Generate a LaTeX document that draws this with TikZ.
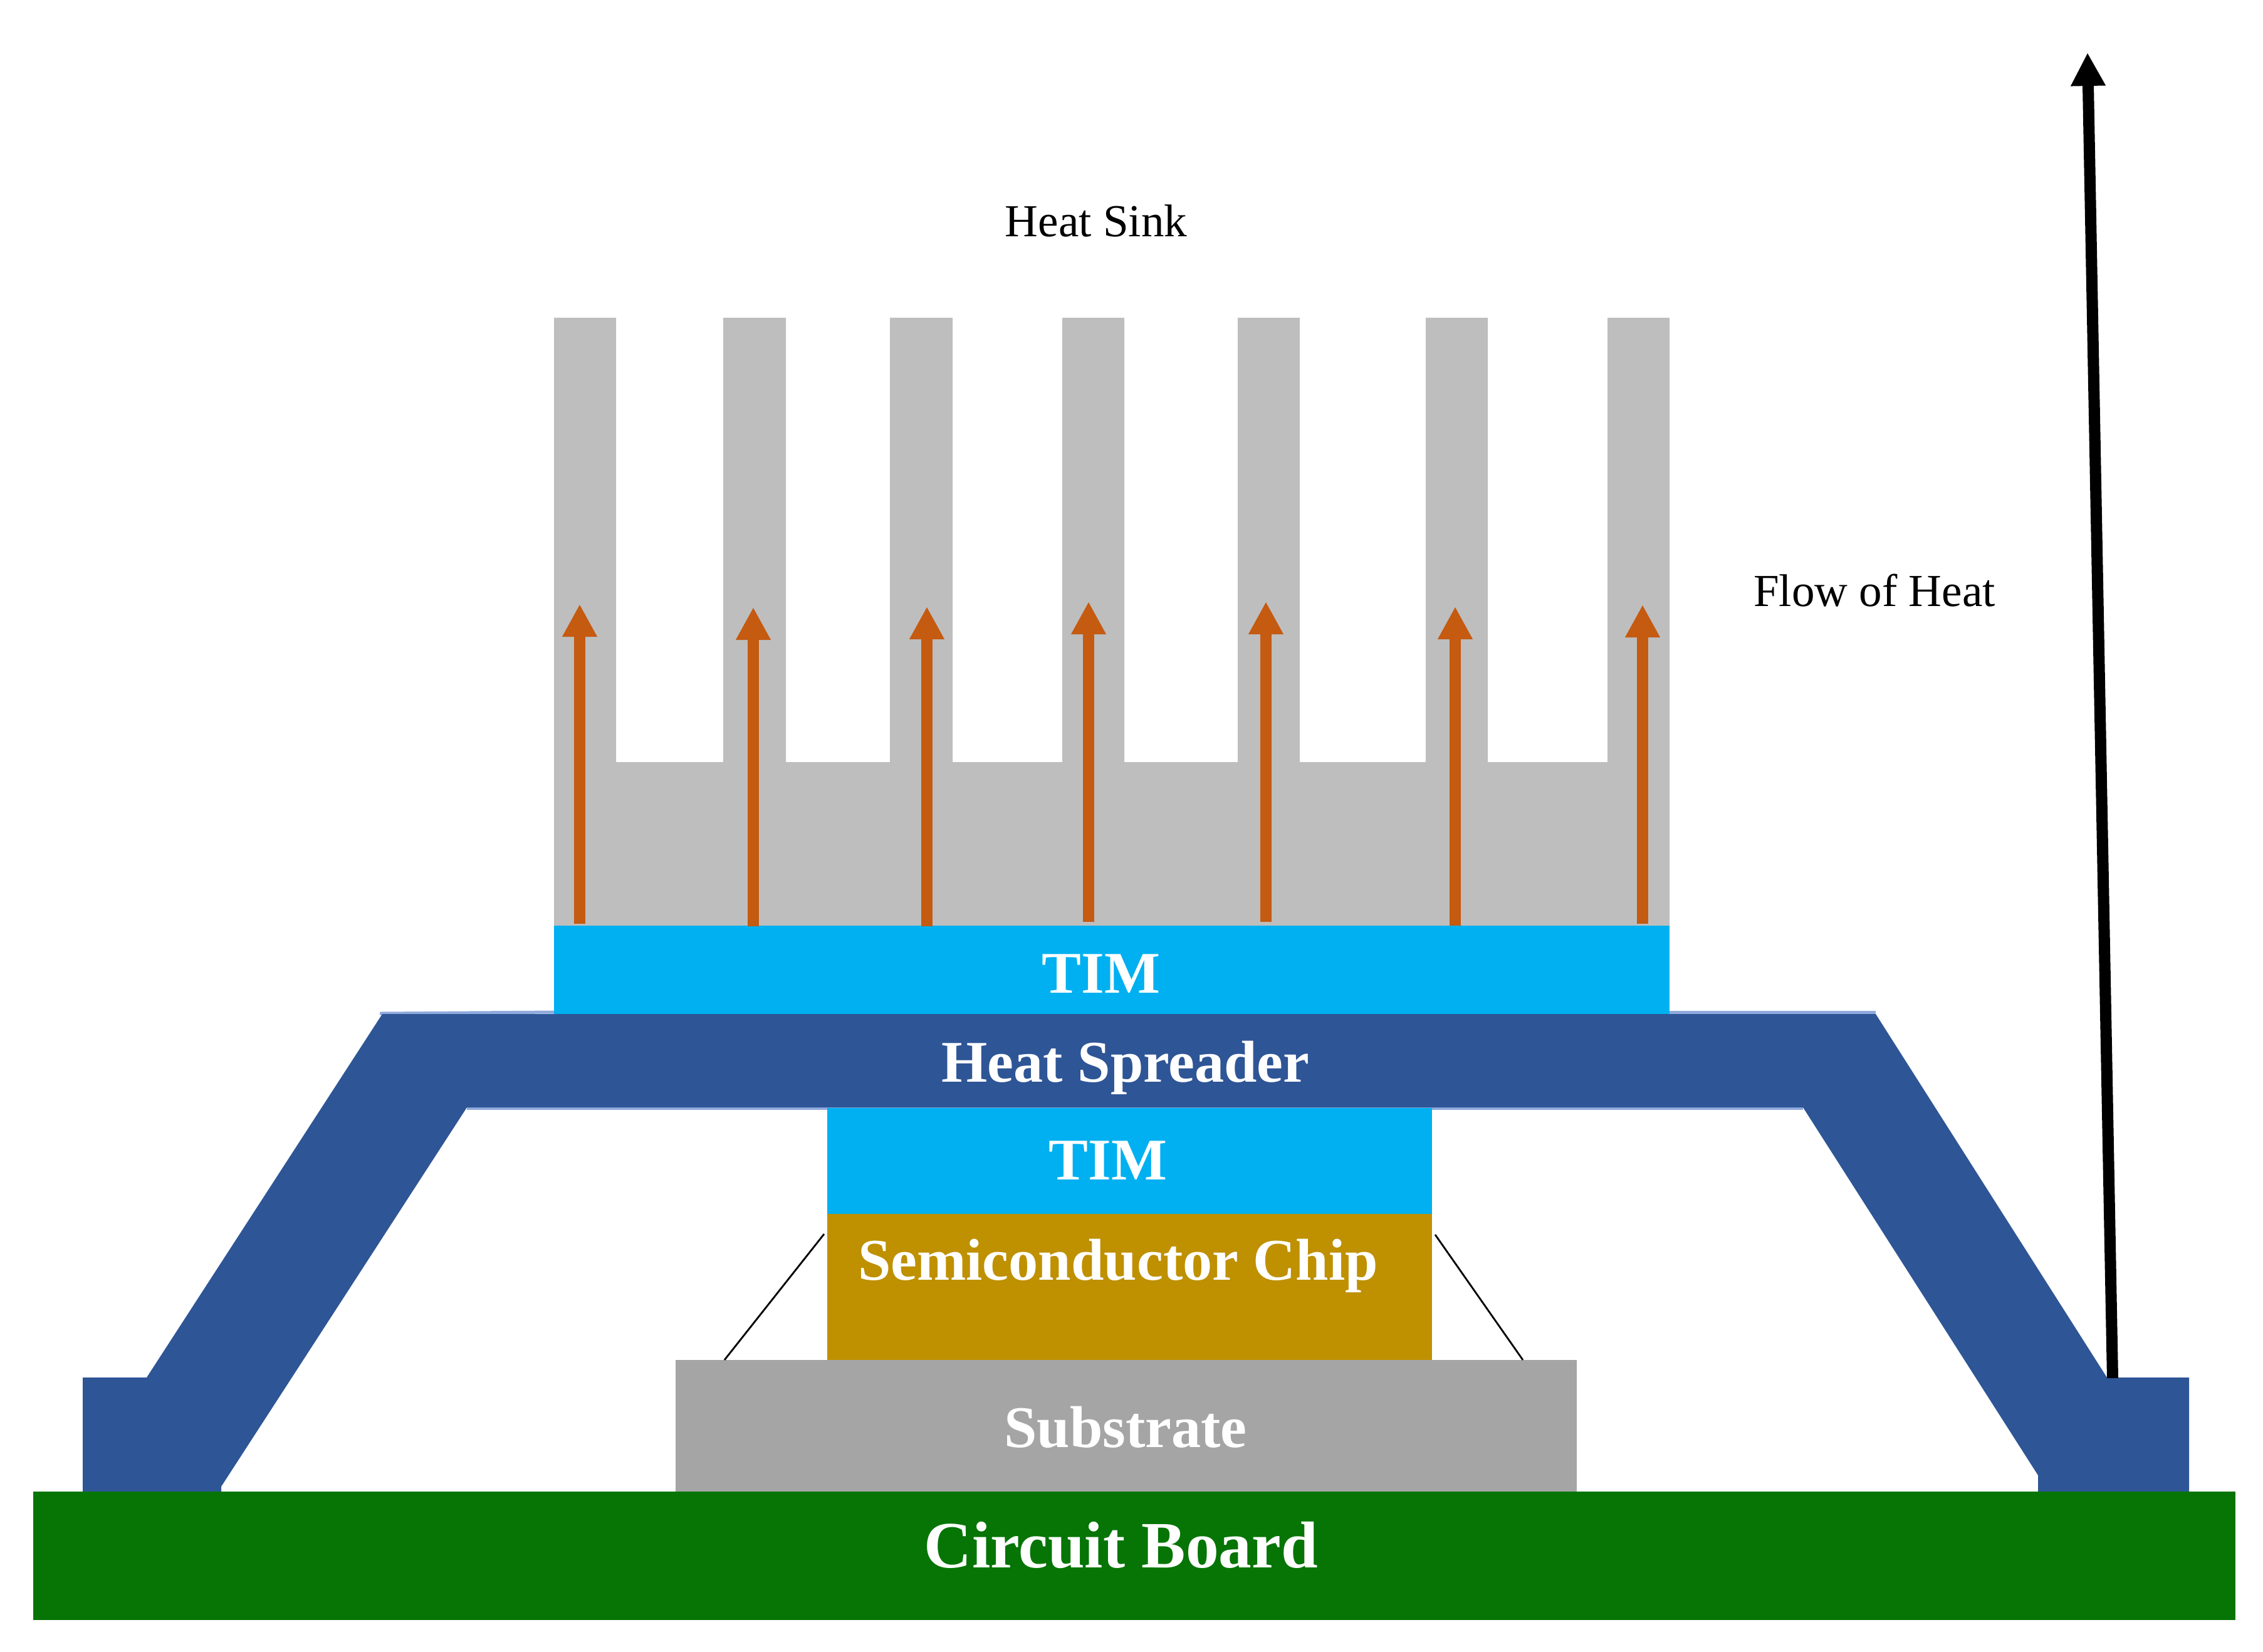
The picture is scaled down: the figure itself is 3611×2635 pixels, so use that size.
\documentclass[tikz,border=0pt]{standalone}
\usepackage{fontspec}
\setmainfont{Liberation Serif}
\usetikzlibrary{arrows.meta}
\definecolor{sinkgray}{HTML}{BEBEBE}
\definecolor{timblue}{HTML}{00B0F0}
\definecolor{spreadblue}{HTML}{2E5596}
\definecolor{edgeblue}{HTML}{8FAADC}
\definecolor{chipgold}{HTML}{BF9000}
\definecolor{subgray}{HTML}{A5A5A5}
\definecolor{boardgreen}{HTML}{067506}
\definecolor{heatorange}{HTML}{C55A11}
\tikzset{
  plain label/.style={inner sep=0pt,font=\fontsize{20.8}{25}\selectfont,text=black},
  bold label/.style={inner sep=0pt,font=\fontsize{26.8}{32}\selectfont\bfseries,text=white},
  board label/.style={inner sep=0pt,font=\fontsize{30}{36}\selectfont\bfseries,text=white},
  heat arrow/.style={draw=heatorange,line width=0.18cm,-{Triangle[length=0.52cm,width=0.52cm]}},
  flow arrow/.style={draw=black,line width=0.18cm,-{Triangle[length=0.53cm,width=0.52cm]}},
  wire/.style={draw=black,line width=0.8pt},
}
\begin{document}
\begin{tikzpicture}[x=0.01cm,y=-0.01cm]
\useasboundingbox (0,0) rectangle (3611,2635);
% heat sink
\fill[sinkgray] (884,507) -- (983,507) -- (983,1216) -- (1154,1216) -- (1154,507) -- (1254,507)
  -- (1254,1216) -- (1420,1216) -- (1420,507) -- (1520,507) -- (1520,1216) -- (1695,1216)
  -- (1695,507) -- (1794,507) -- (1794,1216) -- (1975,1216) -- (1975,507) -- (2074,507)
  -- (2074,1216) -- (2275,1216) -- (2275,507) -- (2374,507) -- (2374,1216) -- (2565,1216)
  -- (2565,507) -- (2664,507) -- (2664,1480) -- (884,1480) -- cycle;
% upper TIM
\fill[timblue] (884,1477) rectangle (2664,1618);
% heat spreader
\draw[edgeblue,line width=0.05cm] (606,1617) -- (884,1615);
\draw[edgeblue,line width=0.05cm] (2664,1615) -- (2993,1615);
\draw[edgeblue,line width=0.05cm] (745,1768) -- (2877,1768);
\fill[spreadblue] (132,2198) -- (234,2198) -- (610,1618) -- (2993,1618) -- (3362,2198)
  -- (3493,2198) -- (3493,2385) -- (3252,2385) -- (3252,2354) -- (2877,1767) -- (745,1767)
  -- (353,2372) -- (353,2385) -- (132,2385) -- cycle;
% lower stack
\fill[timblue] (1320,1768) rectangle (2285,1937);
\fill[chipgold] (1320,1937) rectangle (2285,2170);
\fill[subgray] (1078,2170) rectangle (2516,2380);
\fill[boardgreen] (53,2380) rectangle (3567,2585);
% bond wires
\coordinate (wireLa) at (1315,1969);
\coordinate (wireLb) at (1156,2170);
\coordinate (wireRa) at (2290,1970);
\coordinate (wireRb) at (2430,2170);
\draw[wire] (wireLa) -- (wireLb);
\draw[wire] (wireRa) -- (wireRb);
% heat arrows
\coordinate (a1s) at (925,1474);  \coordinate (a1e) at (925,964);
\coordinate (a2s) at (1202,1478); \coordinate (a2e) at (1202,969);
\coordinate (a3s) at (1479,1478); \coordinate (a3e) at (1479,968);
\coordinate (a4s) at (1737,1471); \coordinate (a4e) at (1737,960);
\coordinate (a5s) at (2020,1471); \coordinate (a5e) at (2020,960);
\coordinate (a6s) at (2322,1477); \coordinate (a6e) at (2322,968);
\coordinate (a7s) at (2621,1474); \coordinate (a7e) at (2621,965);
\foreach \i in {1,...,7} {\draw[heat arrow] (a\i s) -- (a\i e);}
% flow of heat arrow
\coordinate (flowS) at (3371,2199);
\coordinate (flowE) at (3331,84);
\draw[flow arrow] (flowS) -- (flowE);
% labels
\node[plain label] (sinklabel) at (1749,352) {Heat Sink};
\node[plain label] (flowlabel) at (2991,942) {Flow of Heat};
\node[bold label] (tima) at (1757,1554) {TIM};
\node[bold label] (spreader) at (1796,1704) {Heat Spreader};
\node[bold label] (timb) at (1768,1852) {TIM};
\node[bold label] (chip) at (1784,2020) {Semiconductor Chip};
\node[bold label] (substrate) at (1796,2277) {Substrate};
\node[board label] (board) at (1789,2466) {Circuit Board};
\end{tikzpicture}
\end{document}
